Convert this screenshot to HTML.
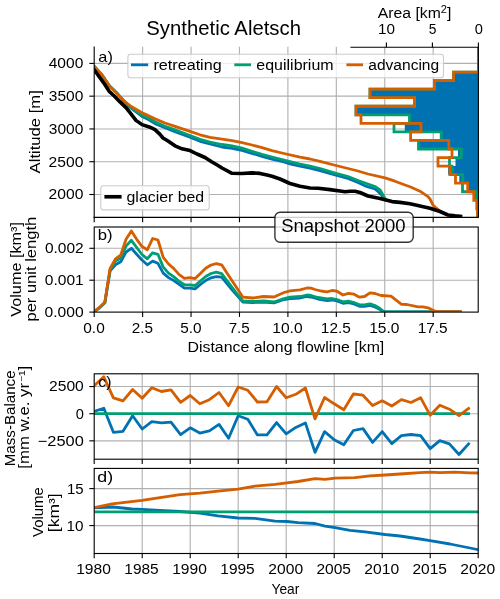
<!DOCTYPE html>
<html><head><meta charset="utf-8"><style>
html,body{margin:0;padding:0;background:#fff;}
svg{display:block;will-change:transform;}
text{font-family:"Liberation Sans", sans-serif;fill:#000;}
</style></head><body>
<svg width="500" height="599" viewBox="0 0 500 599">
<rect width="500" height="599" fill="#fff"/>
<clipPath id="ca"><rect x="94.2" y="46.5" width="384.0" height="170.9"/></clipPath>
<clipPath id="cb"><rect x="94.2" y="227.0" width="384.0" height="85.10000000000002"/></clipPath>
<clipPath id="cc"><rect x="94.2" y="373.8" width="384.0" height="85.39999999999998"/></clipPath>
<clipPath id="cd"><rect x="94.2" y="468.4" width="384.0" height="85.10000000000002"/></clipPath>
<g clip-path="url(#ca)">
<line x1="142.62" y1="46.5" x2="142.62" y2="217.4" stroke="#b0b0b0" stroke-width="1.11" />
<line x1="191.05" y1="46.5" x2="191.05" y2="217.4" stroke="#b0b0b0" stroke-width="1.11" />
<line x1="239.48" y1="46.5" x2="239.48" y2="217.4" stroke="#b0b0b0" stroke-width="1.11" />
<line x1="287.9" y1="46.5" x2="287.9" y2="217.4" stroke="#b0b0b0" stroke-width="1.11" />
<line x1="336.32" y1="46.5" x2="336.32" y2="217.4" stroke="#b0b0b0" stroke-width="1.11" />
<line x1="384.75" y1="46.5" x2="384.75" y2="217.4" stroke="#b0b0b0" stroke-width="1.11" />
<line x1="433.18" y1="46.5" x2="433.18" y2="217.4" stroke="#b0b0b0" stroke-width="1.11" />
<line x1="94.2" y1="194.5" x2="478.2" y2="194.5" stroke="#b0b0b0" stroke-width="1.11" />
<line x1="94.2" y1="161.72" x2="478.2" y2="161.72" stroke="#b0b0b0" stroke-width="1.11" />
<line x1="94.2" y1="128.95" x2="478.2" y2="128.95" stroke="#b0b0b0" stroke-width="1.11" />
<line x1="94.2" y1="96.17" x2="478.2" y2="96.17" stroke="#b0b0b0" stroke-width="1.11" />
<line x1="94.2" y1="63.4" x2="478.2" y2="63.4" stroke="#b0b0b0" stroke-width="1.11" />
</g>
<g clip-path="url(#ca)">
<polyline points="94.5,66.8 102,75 109.6,86 116.3,92.4 123,100.2 130,107.5 142,116.4 148,119.3 155,123.6 165,127.8 175,131.6 190,137.3 200,141.3 210,144 222,147 232,148.3 242,150.3 252,153.3 262,156.3 272,159.2 284,162 290,163.8 300,166.2 310,168.2 320,170.6 336,175.2 348,178.5 358,182.5 365,185.8 375,189 378,191.5 382,195.5 385.5,199.5" fill="none" stroke="#0072b2" stroke-width="2.8" stroke-linecap="square" stroke-linejoin="round" />
<polyline points="94.5,66.8 102,75 109.6,86 116.3,92.4 123,100 130,106.8 142,115.2 148,117.8 155,121.8 165,126.2 175,129.8 190,135.5 200,139.3 210,142 222,144.5 232,145.8 242,148.2 252,151.3 262,154.3 272,157 284,160 300,164 310,166 320,168.5 336,173.3 348,176.5 358,180.5 365,183 375,186.5 380,189.8 383,195 385.5,199.5" fill="none" stroke="#009e73" stroke-width="2.8" stroke-linecap="square" stroke-linejoin="round" />
<polyline points="94.5,66.8 102,75 109.6,86.2 116.3,92.8 123.5,100.6 131.3,106.5 142,112.8 148,115.4 155,118.8 165,123 175,126.3 190,131.3 200,134.8 210,137.3 222,139.2 232,140.7 242,142.6 252,145 262,147.7 272,150.7 284,153.5 300,157.1 310,159 320,161.3 336,165.5 348,168.5 358,171 368,174 385,177.8 395,181.2 405,185 410,186.8 420,191.2 428,196.7 430,199 433,205 436,207.9 440,211" fill="none" stroke="#d55e00" stroke-width="2.8" stroke-linecap="square" stroke-linejoin="round" />
<polyline points="94.5,70.2 103.5,82.6 109,91.1 114.5,96.2 120,101.9 126,107.7 130,112.6 136,120.4 142,124.6 150,127.2 155,129.6 160,134.4 163,138 168,141 175,145.8 182,148.8 190,150.6 197,154 205,157.5 212,162 218,165.5 222,168 232,173.3 242,173.5 252,172.9 260,173.4 267,175 272,176.2 280,179 290,183.5 300,186.3 310,188 318,188.3 330,189.6 340,191 345,191.8 350,191.2 355,191.3 360,192.5 368,196 380,198.5 385,199.8 392,201.6 400,202.4 410,203.8 420,206 430,208.2 440,211.5 448,215 455,215.8 460.5,216.3" fill="none" stroke="#000" stroke-width="3.6" stroke-linecap="square" stroke-linejoin="round" />
</g>
<rect x="127.9" y="54.2" width="315.6" height="23.6" rx="2.8" fill="#fff" fill-opacity="0.8" stroke="#cccccc" stroke-width="1.1"/>
<line x1="131" y1="64.8" x2="148.2" y2="64.8" stroke="#0072b2" stroke-width="2.8" />
<line x1="234.3" y1="64.8" x2="251" y2="64.8" stroke="#009e73" stroke-width="2.8" />
<line x1="346.4" y1="64.8" x2="363" y2="64.8" stroke="#d55e00" stroke-width="2.8" />
<g transform="translate(153.43,69.8) scale(1.1076,1)"><text x="0" y="0" font-size="14.6">retreating</text></g>
<g transform="translate(256.32,69.8) scale(1.0954,1)"><text x="0" y="0" font-size="14.6">equilibrium</text></g>
<g transform="translate(368.34,69.8) scale(1.0646,1)"><text x="0" y="0" font-size="14.6">advancing</text></g>
<rect x="100.8" y="185.7" width="108.4" height="24.2" rx="2.8" fill="#fff" fill-opacity="0.8" stroke="#cccccc" stroke-width="1.1"/>
<line x1="104.4" y1="196.8" x2="121.6" y2="196.8" stroke="#000" stroke-width="3.6" />
<g transform="translate(126.53,201.9) scale(1.0877,1)"><text x="0" y="0" font-size="14.6">glacier bed</text></g>
<polygon points="478.4,46.5 478.4,72.05 453.6,72.05 453.6,80.6 434.5,80.6 434.5,89.15 370,89.15 370,97.7 414.6,97.7 414.6,106.25 356,106.25 356,114.8 409.5,114.8 409.5,123.35 404.8,123.35 404.8,131.9 441.2,131.9 441.2,140.45 418.5,140.45 418.5,149 458,149 458,157.55 455.5,157.55 455.5,166.1 448.1,166.1 448.1,174.65 459.3,174.65 459.3,183.2 467.7,183.2 467.7,191.75 475,191.75 475,200.3 476.5,200.3 476.5,208.85 477.8,208.85 477.8,217.4 478.4,217.4" fill="#0072b2" stroke="none"/>
<clipPath id="ch"><rect x="350.4" y="47.3" width="128" height="170.1"/></clipPath>
<g clip-path="url(#ch)">
<polyline points="478.4,46.5 478.4,72.05 453.6,72.05 453.6,80.6 434.5,80.6 434.5,89.15 370,89.15 370,97.7 414.6,97.7 414.6,106.25 356,106.25 356,114.8 409.5,114.8 409.5,123.35 394,123.35 394,131.9 441.2,131.9 441.2,140.45 418.5,140.45 418.5,149 461.3,149 461.3,157.55 449.5,157.55 449.5,166.1 452,166.1 452,174.65 462.8,174.65 462.8,183.2 462.5,183.2 462.5,191.75 476.8,191.75 476.8,200.3 477.3,200.3 477.3,208.85 477.8,208.85 477.8,217.4 478.4,217.4" fill="none" stroke="#009e73" stroke-width="2.8" stroke-linecap="butt" stroke-linejoin="miter" />
<polyline points="478.4,46.5 478.4,72.05 453.6,72.05 453.6,80.6 434.5,80.6 434.5,89.15 370,89.15 370,97.7 414.6,97.7 414.6,106.25 356,106.25 356,114.8 361,114.8 361,123.35 421,123.35 421,131.9 410.6,131.9 410.6,140.45 448.8,140.45 448.8,149 452,149 452,157.55 438,157.55 438,166.1 449.9,166.1 449.9,174.65 455.5,174.65 455.5,183.2 467.7,183.2 467.7,191.75 473.8,191.75 473.8,200.3 476.8,200.3 476.8,208.85 477.5,208.85 477.5,217.4 478.4,217.4" fill="none" stroke="#d55e00" stroke-width="2.8" stroke-linecap="butt" stroke-linejoin="miter" />
</g>
<line x1="478.4" y1="47.3" x2="478.4" y2="217.4" stroke="#000" stroke-width="1.11" />
<line x1="94.2" y1="46.5" x2="94.2" y2="217.95" stroke="#000" stroke-width="1.11" />
<line x1="93.65" y1="217.4" x2="478.75" y2="217.4" stroke="#000" stroke-width="1.11" />
<line x1="350.4" y1="47.3" x2="478.9" y2="47.3" stroke="#000" stroke-width="1.11" />
<line x1="89.34" y1="194.5" x2="94.2" y2="194.5" stroke="#000" stroke-width="1.11" />
<line x1="89.34" y1="161.72" x2="94.2" y2="161.72" stroke="#000" stroke-width="1.11" />
<line x1="89.34" y1="128.95" x2="94.2" y2="128.95" stroke="#000" stroke-width="1.11" />
<line x1="89.34" y1="96.17" x2="94.2" y2="96.17" stroke="#000" stroke-width="1.11" />
<line x1="89.34" y1="63.4" x2="94.2" y2="63.4" stroke="#000" stroke-width="1.11" />
<line x1="94.2" y1="217.4" x2="94.2" y2="222.26" stroke="#000" stroke-width="1.11" />
<line x1="142.62" y1="217.4" x2="142.62" y2="222.26" stroke="#000" stroke-width="1.11" />
<line x1="191.05" y1="217.4" x2="191.05" y2="222.26" stroke="#000" stroke-width="1.11" />
<line x1="239.48" y1="217.4" x2="239.48" y2="222.26" stroke="#000" stroke-width="1.11" />
<line x1="287.9" y1="217.4" x2="287.9" y2="222.26" stroke="#000" stroke-width="1.11" />
<line x1="336.32" y1="217.4" x2="336.32" y2="222.26" stroke="#000" stroke-width="1.11" />
<line x1="384.75" y1="217.4" x2="384.75" y2="222.26" stroke="#000" stroke-width="1.11" />
<line x1="433.18" y1="217.4" x2="433.18" y2="222.26" stroke="#000" stroke-width="1.11" />
<line x1="386.4" y1="47.3" x2="386.4" y2="42.44" stroke="#000" stroke-width="1.11" />
<line x1="432.4" y1="47.3" x2="432.4" y2="42.44" stroke="#000" stroke-width="1.11" />
<line x1="478.4" y1="47.3" x2="478.4" y2="42.44" stroke="#000" stroke-width="1.11" />
<g clip-path="url(#cb)">
<line x1="142.62" y1="227" x2="142.62" y2="312.1" stroke="#b0b0b0" stroke-width="1.11" />
<line x1="191.05" y1="227" x2="191.05" y2="312.1" stroke="#b0b0b0" stroke-width="1.11" />
<line x1="239.48" y1="227" x2="239.48" y2="312.1" stroke="#b0b0b0" stroke-width="1.11" />
<line x1="287.9" y1="227" x2="287.9" y2="312.1" stroke="#b0b0b0" stroke-width="1.11" />
<line x1="336.32" y1="227" x2="336.32" y2="312.1" stroke="#b0b0b0" stroke-width="1.11" />
<line x1="384.75" y1="227" x2="384.75" y2="312.1" stroke="#b0b0b0" stroke-width="1.11" />
<line x1="433.18" y1="227" x2="433.18" y2="312.1" stroke="#b0b0b0" stroke-width="1.11" />
<line x1="94.2" y1="248.3" x2="478.2" y2="248.3" stroke="#b0b0b0" stroke-width="1.11" />
<line x1="94.2" y1="280.2" x2="478.2" y2="280.2" stroke="#b0b0b0" stroke-width="1.11" />
</g>
<g clip-path="url(#cb)">
<polyline points="94.2,311.6 99.51,307.8 104.82,302.8 110.13,270.8 115.44,264.8 120.75,261.8 126.06,252 131.37,248.3 136.68,254.3 141.99,260 147.3,264.8 152.61,261.1 157.92,263.3 163.23,273.1 168.54,277.6 173.85,280.6 179.16,284.4 184.47,288.2 189.78,288.2 195.09,288.9 200.4,284.5 205.71,280.5 211.02,277.8 216.33,276.6 221.64,277.2 226.95,283.5 232.26,290 237.57,296 242.88,302 253,302.5 263.5,302.2 274,302.8 284,299.5 290,298.7 300,298 307,296.5 311,297 318,299 327,300.5 332,300 337,301 343,303.3 348.5,302.7 354,304 359.5,306.3 364.5,306.3 370,305.3 375,307 380,309.5 383,311.5 385.5,311.8 460.2,311.8" fill="none" stroke="#0072b2" stroke-width="2.8" stroke-linecap="square" stroke-linejoin="round" />
<polyline points="94.2,311.6 99.51,307.8 104.82,302.8 110.13,269.5 115.44,261 120.75,258.3 126.06,246 131.37,240.3 136.68,247.5 141.99,254.5 147.3,258.8 152.61,252.8 157.92,254.3 163.23,267.1 168.54,273.1 173.85,276.9 179.16,281.4 184.47,284.8 189.78,284.8 195.09,285.5 200.4,281 205.71,276.5 211.02,273.5 216.33,272.2 221.64,273.6 226.95,280.5 232.26,287.5 237.57,294.5 242.88,301 253,301.5 263.5,301 274,302 284,298.5 290,297.2 300,296.5 307,295 311,295.5 318,297.5 327,299 332,298.5 337,299.5 343,301.8 348.5,301.2 354,302.5 359.5,304.8 364.5,304.8 370,303.8 375,305.5 380,308.5 383,311 385.5,311.8 460.2,311.8" fill="none" stroke="#009e73" stroke-width="2.8" stroke-linecap="square" stroke-linejoin="round" />
<polyline points="94.2,311.3 99.51,307.3 104.82,302.3 110.13,268.5 115.44,258.8 120.75,255 126.06,239.3 131.37,231 136.68,239.3 141.99,246.5 147.3,249.8 152.61,238.5 157.92,240 163.23,257.3 168.54,264 173.85,268.6 179.16,274.6 184.47,278.4 189.78,277.6 195.09,278.6 200.4,273.4 205.71,268.2 211.02,265 216.33,263.6 221.64,264.8 226.95,272.9 232.26,281 237.57,289.1 242.88,297.2 253,298 263.5,296.5 274,297 284,292.5 290,290.8 300,289.8 307,288 311,288.2 315,289.5 321,291 327,291.8 332,290.5 337,291.2 343,295 348.5,293.3 354,294.2 359.5,297.2 364.5,296.5 370,292.8 375,293.5 381,295.5 391,296.2 401.5,304.4 407,304.5 418,306.8 423,306.8 428,307.8 433,310.2 436,311.6 460.2,311.6" fill="none" stroke="#d55e00" stroke-width="2.8" stroke-linecap="square" stroke-linejoin="round" />
</g>
<rect x="94.2" y="227.0" width="384.0" height="85.10000000000002" fill="none" stroke="#000" stroke-width="1.11"/>
<line x1="89.34" y1="248.3" x2="94.2" y2="248.3" stroke="#000" stroke-width="1.11" />
<line x1="89.34" y1="280.2" x2="94.2" y2="280.2" stroke="#000" stroke-width="1.11" />
<line x1="89.34" y1="312.1" x2="94.2" y2="312.1" stroke="#000" stroke-width="1.11" />
<line x1="94.2" y1="312.1" x2="94.2" y2="316.96" stroke="#000" stroke-width="1.11" />
<line x1="142.62" y1="312.1" x2="142.62" y2="316.96" stroke="#000" stroke-width="1.11" />
<line x1="191.05" y1="312.1" x2="191.05" y2="316.96" stroke="#000" stroke-width="1.11" />
<line x1="239.48" y1="312.1" x2="239.48" y2="316.96" stroke="#000" stroke-width="1.11" />
<line x1="287.9" y1="312.1" x2="287.9" y2="316.96" stroke="#000" stroke-width="1.11" />
<line x1="336.32" y1="312.1" x2="336.32" y2="316.96" stroke="#000" stroke-width="1.11" />
<line x1="384.75" y1="312.1" x2="384.75" y2="316.96" stroke="#000" stroke-width="1.11" />
<line x1="433.18" y1="312.1" x2="433.18" y2="316.96" stroke="#000" stroke-width="1.11" />
<g clip-path="url(#cc)">
<line x1="142.2" y1="373.8" x2="142.2" y2="459.2" stroke="#b0b0b0" stroke-width="1.11" />
<line x1="190.2" y1="373.8" x2="190.2" y2="459.2" stroke="#b0b0b0" stroke-width="1.11" />
<line x1="238.2" y1="373.8" x2="238.2" y2="459.2" stroke="#b0b0b0" stroke-width="1.11" />
<line x1="286.2" y1="373.8" x2="286.2" y2="459.2" stroke="#b0b0b0" stroke-width="1.11" />
<line x1="334.2" y1="373.8" x2="334.2" y2="459.2" stroke="#b0b0b0" stroke-width="1.11" />
<line x1="382.2" y1="373.8" x2="382.2" y2="459.2" stroke="#b0b0b0" stroke-width="1.11" />
<line x1="430.2" y1="373.8" x2="430.2" y2="459.2" stroke="#b0b0b0" stroke-width="1.11" />
<line x1="94.2" y1="440.85" x2="478.2" y2="440.85" stroke="#b0b0b0" stroke-width="1.11" />
<line x1="94.2" y1="413.7" x2="478.2" y2="413.7" stroke="#b0b0b0" stroke-width="1.11" />
<line x1="94.2" y1="386.55" x2="478.2" y2="386.55" stroke="#b0b0b0" stroke-width="1.11" />
</g>
<g clip-path="url(#cc)">
<polyline points="94.2,411.3 103.8,408.3 113.4,432.3 123,431.3 132.6,415.8 142.2,429 151.8,421.7 161.4,422.9 171,422.1 180.6,434.6 190.2,427.8 199.8,433.1 209.4,430.8 219,424.4 228.6,438.3 238.2,415.8 247.8,419.2 257.4,434.9 267,434.9 276.6,422.6 286.2,433.8 295.8,427.4 305.4,422.9 315,452.3 324.6,431.6 334.2,439.8 343.8,444.8 353.4,430.5 363,428.6 372.6,442.4 382.2,431.6 391.8,443.6 401.4,435.6 411,434.5 420.6,435.6 430.2,448.7 439.8,440.7 449.4,443.9 459,454.5 468.6,443.9" fill="none" stroke="#0072b2" stroke-width="2.8" stroke-linecap="square" stroke-linejoin="round" />
<polyline points="94.2,413.6 468.6,413.6" fill="none" stroke="#009e73" stroke-width="2.8" stroke-linecap="square" stroke-linejoin="round" />
<polyline points="94.2,385.8 103.8,376.8 113.4,397.8 123,400.8 132.6,389.5 142.2,398.2 151.8,387.8 161.4,391.5 171,389.8 180.6,402.3 190.2,395.5 199.8,403.8 209.4,399.7 219,392.5 228.6,405.7 238.2,387 247.8,390.3 257.4,402 267,401.8 276.6,386.5 286.2,397.8 295.8,394.3 305.4,388 315,418.8 324.6,397.5 334.2,403.8 343.8,409.8 353.4,394 363,395.2 372.6,405.6 382.2,400.8 391.8,406 401.4,399.6 411,402.5 420.6,397.7 430.2,415.3 439.8,405.2 449.4,409.2 459,415.6 468.6,408.4" fill="none" stroke="#d55e00" stroke-width="2.8" stroke-linecap="square" stroke-linejoin="round" />
</g>
<rect x="94.2" y="373.8" width="384.0" height="85.39999999999998" fill="none" stroke="#000" stroke-width="1.11"/>
<line x1="89.34" y1="440.85" x2="94.2" y2="440.85" stroke="#000" stroke-width="1.11" />
<line x1="89.34" y1="413.7" x2="94.2" y2="413.7" stroke="#000" stroke-width="1.11" />
<line x1="89.34" y1="386.55" x2="94.2" y2="386.55" stroke="#000" stroke-width="1.11" />
<line x1="94.2" y1="459.2" x2="94.2" y2="464.06" stroke="#000" stroke-width="1.11" />
<line x1="142.2" y1="459.2" x2="142.2" y2="464.06" stroke="#000" stroke-width="1.11" />
<line x1="190.2" y1="459.2" x2="190.2" y2="464.06" stroke="#000" stroke-width="1.11" />
<line x1="238.2" y1="459.2" x2="238.2" y2="464.06" stroke="#000" stroke-width="1.11" />
<line x1="286.2" y1="459.2" x2="286.2" y2="464.06" stroke="#000" stroke-width="1.11" />
<line x1="334.2" y1="459.2" x2="334.2" y2="464.06" stroke="#000" stroke-width="1.11" />
<line x1="382.2" y1="459.2" x2="382.2" y2="464.06" stroke="#000" stroke-width="1.11" />
<line x1="430.2" y1="459.2" x2="430.2" y2="464.06" stroke="#000" stroke-width="1.11" />
<line x1="478.2" y1="459.2" x2="478.2" y2="464.06" stroke="#000" stroke-width="1.11" />
<g clip-path="url(#cd)">
<line x1="142.2" y1="468.4" x2="142.2" y2="553.5" stroke="#b0b0b0" stroke-width="1.11" />
<line x1="190.2" y1="468.4" x2="190.2" y2="553.5" stroke="#b0b0b0" stroke-width="1.11" />
<line x1="238.2" y1="468.4" x2="238.2" y2="553.5" stroke="#b0b0b0" stroke-width="1.11" />
<line x1="286.2" y1="468.4" x2="286.2" y2="553.5" stroke="#b0b0b0" stroke-width="1.11" />
<line x1="334.2" y1="468.4" x2="334.2" y2="553.5" stroke="#b0b0b0" stroke-width="1.11" />
<line x1="382.2" y1="468.4" x2="382.2" y2="553.5" stroke="#b0b0b0" stroke-width="1.11" />
<line x1="430.2" y1="468.4" x2="430.2" y2="553.5" stroke="#b0b0b0" stroke-width="1.11" />
<line x1="94.2" y1="525.6" x2="478.2" y2="525.6" stroke="#b0b0b0" stroke-width="1.11" />
<line x1="94.2" y1="488.6" x2="478.2" y2="488.6" stroke="#b0b0b0" stroke-width="1.11" />
</g>
<g clip-path="url(#cd)">
<polyline points="94.2,507.8 113,507 132,509 142,509.3 160,510.4 180,511.5 200,513.1 218,515.9 238,518 255,518.3 275,521.2 287,521.5 298,522.6 315,523.5 325,526.2 335,527.6 350,530.4 365,531.9 385,534.5 400,536 420,539 430,540.6 450,544 470,548 478.2,549.7" fill="none" stroke="#0072b2" stroke-width="2.8" stroke-linecap="square" stroke-linejoin="round" />
<polyline points="94.2,511.8 478.2,511.8" fill="none" stroke="#009e73" stroke-width="2.8" stroke-linecap="square" stroke-linejoin="round" />
<polyline points="94.2,507.6 112.2,503.8 142,500.4 160,497.6 180,494.7 200,493.1 218,491.1 238,489.1 255,486.2 275,484.3 287,482.8 298,481.5 315,478.6 325,479.3 335,478.1 355,477.6 370,475.9 385,475 400,474 420,472.7 430,472.1 440,472.6 455,472.1 470,472.9 478.2,473" fill="none" stroke="#d55e00" stroke-width="2.8" stroke-linecap="square" stroke-linejoin="round" />
</g>
<rect x="94.2" y="468.4" width="384.0" height="85.10000000000002" fill="none" stroke="#000" stroke-width="1.11"/>
<line x1="89.34" y1="525.6" x2="94.2" y2="525.6" stroke="#000" stroke-width="1.11" />
<line x1="89.34" y1="488.6" x2="94.2" y2="488.6" stroke="#000" stroke-width="1.11" />
<line x1="94.2" y1="553.5" x2="94.2" y2="558.36" stroke="#000" stroke-width="1.11" />
<line x1="142.2" y1="553.5" x2="142.2" y2="558.36" stroke="#000" stroke-width="1.11" />
<line x1="190.2" y1="553.5" x2="190.2" y2="558.36" stroke="#000" stroke-width="1.11" />
<line x1="238.2" y1="553.5" x2="238.2" y2="558.36" stroke="#000" stroke-width="1.11" />
<line x1="286.2" y1="553.5" x2="286.2" y2="558.36" stroke="#000" stroke-width="1.11" />
<line x1="334.2" y1="553.5" x2="334.2" y2="558.36" stroke="#000" stroke-width="1.11" />
<line x1="382.2" y1="553.5" x2="382.2" y2="558.36" stroke="#000" stroke-width="1.11" />
<line x1="430.2" y1="553.5" x2="430.2" y2="558.36" stroke="#000" stroke-width="1.11" />
<line x1="478.2" y1="553.5" x2="478.2" y2="558.36" stroke="#000" stroke-width="1.11" />
<g transform="translate(146.28,34.7) scale(1.0473,1)"><text x="0" y="0" font-size="19.4">Synthetic Aletsch</text></g>
<g transform="translate(377.87,17.7) scale(1.0777,1)"><text x="0" y="0" font-size="14.6">Area [km</text><text x="58.41" y="-5.11" font-size="10.22">2</text><text x="64.1" y="0" font-size="14.6">]</text></g>
<g transform="translate(377.92,33.6) scale(1.0460,1)"><text x="0" y="0" font-size="14.6">10</text></g>
<g transform="translate(428.87,33.6) scale(0.9465,1)"><text x="0" y="0" font-size="14.6">5</text></g>
<g transform="translate(474.63,33.6) scale(1.0029,1)"><text x="0" y="0" font-size="14.6">0</text></g>
<g transform="translate(48.6,199.4) scale(1.0717,1)"><text x="0" y="0" font-size="14.6">2000</text></g>
<g transform="translate(48.6,166.62) scale(1.0717,1)"><text x="0" y="0" font-size="14.6">2500</text></g>
<g transform="translate(48.84,133.85) scale(1.0643,1)"><text x="0" y="0" font-size="14.6">3000</text></g>
<g transform="translate(48.84,101.08) scale(1.0643,1)"><text x="0" y="0" font-size="14.6">3500</text></g>
<g transform="translate(48.69,68.3) scale(1.0688,1)"><text x="0" y="0" font-size="14.6">4000</text></g>
<g transform="translate(98.31,61.8) scale(1.1173,1)"><text x="0" y="0" font-size="14.6">a)</text></g>
<g transform="translate(97.73,240) scale(1.1405,1)"><text x="0" y="0" font-size="14.6">b)</text></g>
<g transform="translate(98.33,387) scale(1.0812,1)"><text x="0" y="0" font-size="14.6">c)</text></g>
<g transform="translate(97.25,482.4) scale(1.2213,1)"><text x="0" y="0" font-size="14.6">d)</text></g>
<g transform="translate(44.94,253.2) scale(1.0632,1)"><text x="0" y="0" font-size="14.6">0.002</text></g>
<g transform="translate(44.83,285.1) scale(1.0656,1)"><text x="0" y="0" font-size="14.6">0.001</text></g>
<g transform="translate(44.46,317) scale(1.0715,1)"><text x="0" y="0" font-size="14.6">0.000</text></g>
<g transform="translate(83.27,332.5) scale(1.0572,1)"><text x="0" y="0" font-size="14.6">0.0</text></g>
<g transform="translate(131.73,332.5) scale(1.0480,1)"><text x="0" y="0" font-size="14.6">2.5</text></g>
<g transform="translate(180.19,332.5) scale(1.0499,1)"><text x="0" y="0" font-size="14.6">5.0</text></g>
<g transform="translate(228.63,332.5) scale(1.0424,1)"><text x="0" y="0" font-size="14.6">7.5</text></g>
<g transform="translate(272.28,332.5) scale(1.0653,1)"><text x="0" y="0" font-size="14.6">10.0</text></g>
<g transform="translate(320.86,332.5) scale(1.0561,1)"><text x="0" y="0" font-size="14.6">12.5</text></g>
<g transform="translate(369.13,332.5) scale(1.0653,1)"><text x="0" y="0" font-size="14.6">15.0</text></g>
<g transform="translate(417.71,332.5) scale(1.0561,1)"><text x="0" y="0" font-size="14.6">17.5</text></g>
<g transform="translate(187.5,351.8) scale(1.0877,1)"><text x="0" y="0" font-size="14.6">Distance along flowline [km]</text></g>
<g transform="translate(49,391.45) scale(1.0717,1)"><text x="0" y="0" font-size="14.6">2500</text></g>
<g transform="translate(75.63,418.6) scale(1.0029,1)"><text x="0" y="0" font-size="14.6">0</text></g>
<g transform="translate(37.8,445.75) scale(1.1228,1)"><text x="0" y="0" font-size="14.6">−2500</text></g>
<g transform="translate(66.61,530.5) scale(1.0460,1)"><text x="0" y="0" font-size="14.6">10</text></g>
<g transform="translate(66.92,493.5) scale(1.0290,1)"><text x="0" y="0" font-size="14.6">15</text></g>
<g transform="translate(76.16,573.8) scale(1.0683,1)"><text x="0" y="0" font-size="14.6">1980</text></g>
<g transform="translate(124.32,573.8) scale(1.0604,1)"><text x="0" y="0" font-size="14.6">1985</text></g>
<g transform="translate(172.16,573.8) scale(1.0683,1)"><text x="0" y="0" font-size="14.6">1990</text></g>
<g transform="translate(220.32,573.8) scale(1.0604,1)"><text x="0" y="0" font-size="14.6">1995</text></g>
<g transform="translate(268.31,573.8) scale(1.0717,1)"><text x="0" y="0" font-size="14.6">2000</text></g>
<g transform="translate(316.46,573.8) scale(1.0638,1)"><text x="0" y="0" font-size="14.6">2005</text></g>
<g transform="translate(364.31,573.8) scale(1.0717,1)"><text x="0" y="0" font-size="14.6">2010</text></g>
<g transform="translate(412.46,573.8) scale(1.0638,1)"><text x="0" y="0" font-size="14.6">2015</text></g>
<g transform="translate(460.31,573.8) scale(1.0717,1)"><text x="0" y="0" font-size="14.6">2020</text></g>
<g transform="translate(271.5,593.5) scale(0.9446,1)"><text x="0" y="0" font-size="14.6">Year</text></g>
<g transform="translate(40.1,173.43) rotate(-90) scale(1.1409,1)"><text x="0" y="0" font-size="14.6">Altitude [m]</text></g>
<g transform="translate(20.6,316.67) rotate(-90) scale(1.1108,1)"><text x="0" y="0" font-size="14.6">Volume [km³]</text></g>
<g transform="translate(35.8,321.57) rotate(-90) scale(1.1330,1)"><text x="0" y="0" font-size="14.6">per unit length</text></g>
<g transform="translate(14.6,466.24) rotate(-90) scale(1.0369,1)"><text x="0" y="0" font-size="14.6">Mass-Balance</text></g>
<g transform="translate(29,468.7) rotate(-90) scale(1.1501,1)"><text x="0" y="0" font-size="14.6">[mm w.e. yr</text><text x="75.43" y="-4.82" font-size="8.76">−</text><text x="80.55" y="0" font-size="14.6">¹]</text></g>
<g transform="translate(43,536.97) rotate(-90) scale(1.0227,1)"><text x="0" y="0" font-size="14.6">Volume</text></g>
<g transform="translate(58.7,532.14) rotate(-90) scale(1.1959,1)"><text x="0" y="0" font-size="14.6">[km³]</text></g>
<rect x="274.9" y="212.3" width="138.3" height="30" rx="5.2" fill="#fff" fill-opacity="0.8" stroke="#000" stroke-opacity="0.8" stroke-width="1.39"/>
<g transform="translate(281.16,232.2) scale(1.0580,1)"><text x="0" y="0" font-size="17.5">Snapshot 2000</text></g>
</svg></body></html>
